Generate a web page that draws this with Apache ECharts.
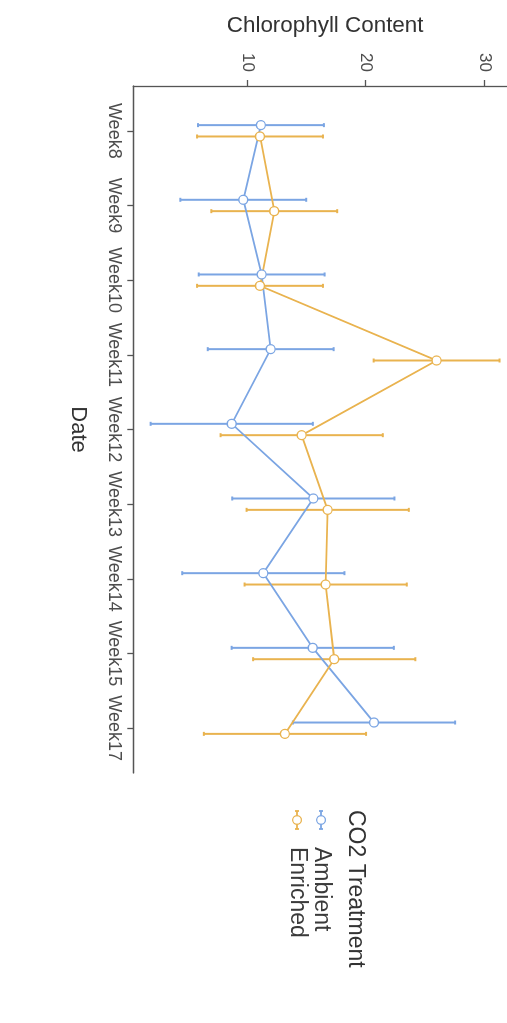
<!DOCTYPE html>
<html>
<head>
<meta charset="utf-8">
<script src="https://cdn.jsdelivr.net/npm/echarts@6/dist/echarts.min.js"></script>
<style>
html, body { margin: 0; padding: 0; background: #fff; overflow: hidden; }
/* chart is laid out landscape and turned a quarter clockwise */
#wrap { position: absolute; left: 0; top: 0; width: 1023px; height: 507px;
  transform-origin: 0 0; transform: translateX(507px) rotate(90deg); }
</style>
</head>
<body>
<div id="wrap"></div>
<script>
var weeks = ['Week8', 'Week9', 'Week10', 'Week11', 'Week12', 'Week13', 'Week14', 'Week15', 'Week17']
var ambientMean = [11.15, 9.66, 11.21, 11.97, 8.69, 15.56, 11.35, 15.51, 20.67]
var ambientErr = [5.3, 5.3, 5.3, 5.3, 6.83, 6.83, 6.83, 6.83, 6.83]
var enrichedMean = [11.07, 12.27, 11.07, 25.94, 14.58, 16.77, 16.6, 17.32, 13.17]
var enrichedErr = [5.3, 5.3, 5.3, 5.3, 6.83, 6.83, 6.83, 6.83, 6.83]
var valueTicks = [10, 20, 30]

var blue = '#7ba5e3'
var orange = '#e9b34f'
var font = 'Liberation Sans, Arial, sans-serif'
var dodge = 0.076

function pts(mean, shift) {
  return mean.map(function (m, i) { return [i + shift, m] })
}
function bars(mean, err, shift) {
  return mean.map(function (m, i) { return [i + shift, m - err[i], m + err[i]] })
}
function errorBar(color) {
  return function (params, api) {
    var lo = api.coord([api.value(0), api.value(1)])
    var hi = api.coord([api.value(0), api.value(2)])
    var st = { stroke: color, lineWidth: 2 }
    return { type: 'group', children: [
      { type: 'line', shape: { x1: lo[0], y1: lo[1], x2: hi[0], y2: hi[1] }, style: st },
      { type: 'line', shape: { x1: lo[0] - 2, y1: lo[1], x2: lo[0] + 2, y2: lo[1] }, style: st },
      { type: 'line', shape: { x1: hi[0] - 2, y1: hi[1], x2: hi[0] + 2, y2: hi[1] }, style: st }
    ]}
  }
}
function legendKey(y, color, label) {
  var st = { stroke: color, lineWidth: 1.8 }
  return [
    { type: 'line', shape: { x1: 811, y1: y, x2: 829, y2: y }, style: st },
    { type: 'line', shape: { x1: 811, y1: y - 2, x2: 811, y2: y + 2 }, style: st },
    { type: 'line', shape: { x1: 829, y1: y - 2, x2: 829, y2: y + 2 }, style: st },
    { type: 'circle', shape: { cx: 820, cy: y, r: 4.3 }, style: { fill: '#fff', stroke: color, lineWidth: 1.3 } },
    { type: 'text', x: 847, y: y, style: { text: label, font: '23px ' + font, fill: '#3a3a3a', verticalAlign: 'middle' } }
  ]
}

var axisColor = '#555'
var chart = echarts.init(document.getElementById('wrap'))
chart.setOption({
  backgroundColor: '#fff',
  animation: false,
  grid: { left: 86, right: 250, top: -10, bottom: 133.3, containLabel: false, outerBoundsMode: 'none' },
  xAxis: {
    type: 'value', min: -0.6, max: 8.6,
    name: 'Date', nameLocation: 'middle', nameGap: 44,
    nameTextStyle: { fontSize: 22, color: '#333', fontFamily: font },
    axisLine: { show: true, onZero: false, lineStyle: { color: axisColor, width: 1.3 } },
    axisTick: { show: true, length: 6, customValues: [0, 1, 2, 3, 4, 5, 6, 7, 8], lineStyle: { color: axisColor, width: 1.3 } },
    axisLabel: { customValues: [0, 1, 2, 3, 4, 5, 6, 7, 8], margin: 10, fontSize: 18, color: '#4d4d4d', fontFamily: font,
      formatter: function (v) { return weeks[Math.round(v)] } },
    splitLine: { show: false }
  },
  yAxis: {
    type: 'value', min: 0.4, max: 32.71,
    name: 'Chlorophyll Content', nameLocation: 'middle', nameGap: 49,
    nameTextStyle: { fontSize: 22.4, color: '#333', fontFamily: font },
    axisLine: { show: true, onZero: false, lineStyle: { color: axisColor, width: 1.3 } },
    axisTick: { show: true, length: 6, customValues: valueTicks, lineStyle: { color: axisColor, width: 1.3 } },
    axisLabel: { customValues: valueTicks, margin: 14, fontSize: 17, color: '#4d4d4d', fontFamily: font },
    splitLine: { show: false }
  },
  series: [
    { type: 'custom', name: 'Ambient', renderItem: errorBar(blue), data: bars(ambientMean, ambientErr, -dodge), z: 1 },
    { type: 'custom', name: 'Enriched', renderItem: errorBar(orange), data: bars(enrichedMean, enrichedErr, dodge), z: 1 },
    { type: 'line', data: pts(ambientMean, -dodge), showSymbol: false, lineStyle: { color: blue, width: 1.8 }, z: 2 },
    { type: 'line', data: pts(enrichedMean, dodge), showSymbol: false, lineStyle: { color: orange, width: 1.8 }, z: 2 },
    { type: 'scatter', data: pts(ambientMean, -dodge), symbolSize: 9,
      itemStyle: { color: '#fff', borderColor: blue, borderWidth: 1.3, opacity: 1 }, z: 3 },
    { type: 'scatter', data: pts(enrichedMean, dodge), symbolSize: 9,
      itemStyle: { color: '#fff', borderColor: orange, borderWidth: 1.3, opacity: 1 }, z: 3 }
  ],
  graphic: [
    { type: 'text', x: 810, y: 152, style: { text: 'CO2 Treatment', font: '23px ' + font, fill: '#333', verticalAlign: 'middle' } }
  ].concat(legendKey(186, blue, 'Ambient'), legendKey(210, orange, 'Enriched'))
})
</script>
</body>
</html>
